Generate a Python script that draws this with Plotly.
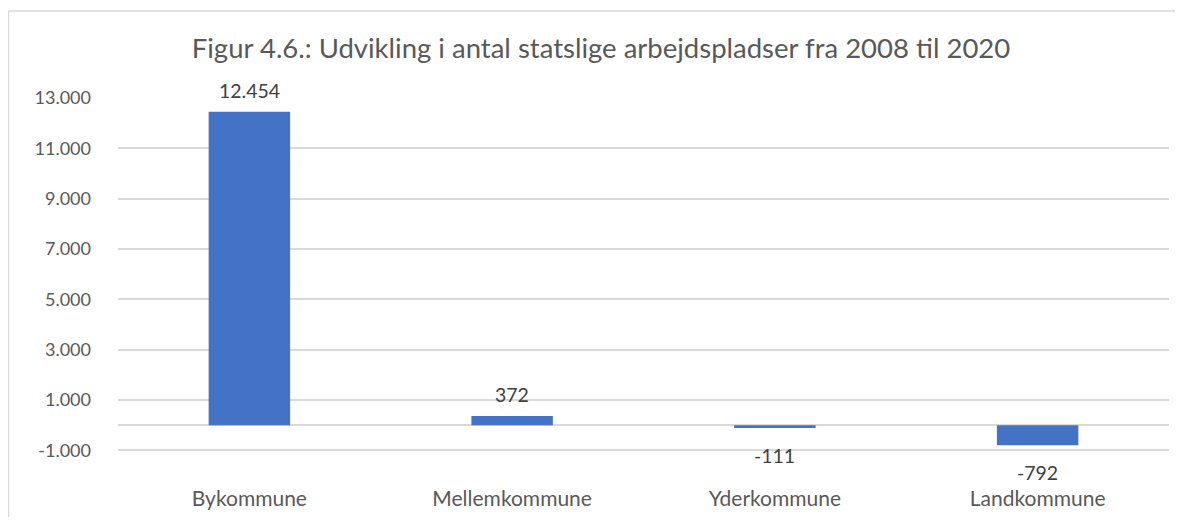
import plotly.graph_objects as go

categories = ["Bykommune", "Mellemkommune", "Yderkommune", "Landkommune"]
values = [12454, 372, -111, -792]
tick_values = [-1000, 1000, 3000, 5000, 7000, 9000, 11000, 13000]
tick_labels = ["-1.000", "1.000", "3.000", "5.000", "7.000", "9.000", "11.000", "13.000"]


def fmt(v):
    s = f"{abs(v):,}".replace(",", ".")
    return ("-" if v < 0 else "") + s


FONT = "Lato, 'Open Sans', sans-serif"
GREY = "#595959"

fig = go.Figure()
fig.add_trace(go.Bar(
    x=categories, y=values, marker_color="#4472C4",
    marker_line_width=0, width=0.31, hoverinfo="skip",
))

for c, v in zip(categories, values):
    fig.add_annotation(
        x=c, y=v, text=fmt(v), showarrow=False,
        yanchor="bottom" if v >= 0 else "top",
        yshift=8 if v >= 0 else -14,
        font=dict(family=FONT, size=19.5, color="#404040"),
    )

W, H = 1167, 509
L, R, T, B = 110, 6, 90, 64
pw, ph = W - L - R, H - T - B

bx = (0.5 - L) / pw
by = (ph + T - 3) / ph
border = dict(color="#d9d9d9", width=1.5)
fig.add_shape(type="line", xref="paper", yref="paper", x0=bx, x1=1.01, y0=by, y1=by,
              line=border, layer="below")
fig.add_shape(type="line", xref="paper", yref="paper", x0=bx, x1=bx, y0=-0.3, y1=by,
              line=border, layer="below")

fig.update_layout(
    width=W, height=H,
    margin=dict(l=L, r=R, t=T, b=B),
    paper_bgcolor="white", plot_bgcolor="white",
    showlegend=False,
    title=dict(text="Figur 4.6.: Udvikling i antal statslige arbejdspladser fra 2008 til 2020",
               x=593 / W, xanchor="center", y=1 - 40 / H, yanchor="middle",
               font=dict(family=FONT, size=27.5, color=GREY)),
    font=dict(family=FONT, color=GREY),
    bargap=0.69,
)
fig.update_yaxes(
    range=[-1100, 13000], tickvals=tick_values, ticktext=tick_labels,
    showgrid=True, gridcolor="#d9d9d9", gridwidth=1.5,
    zeroline=True, zerolinecolor="#d9d9d9", zerolinewidth=1.5,
    showline=False, ticks="", tickfont=dict(family=FONT, size=18, color=GREY),
    ticklabelstandoff=26, automargin=False,
)
fig.update_xaxes(
    showgrid=False, showline=False, ticks="",
    tickfont=dict(family=FONT, size=21, color=GREY),
    ticklabelstandoff=31, automargin=False,
)

fig.write_html("out.html")
